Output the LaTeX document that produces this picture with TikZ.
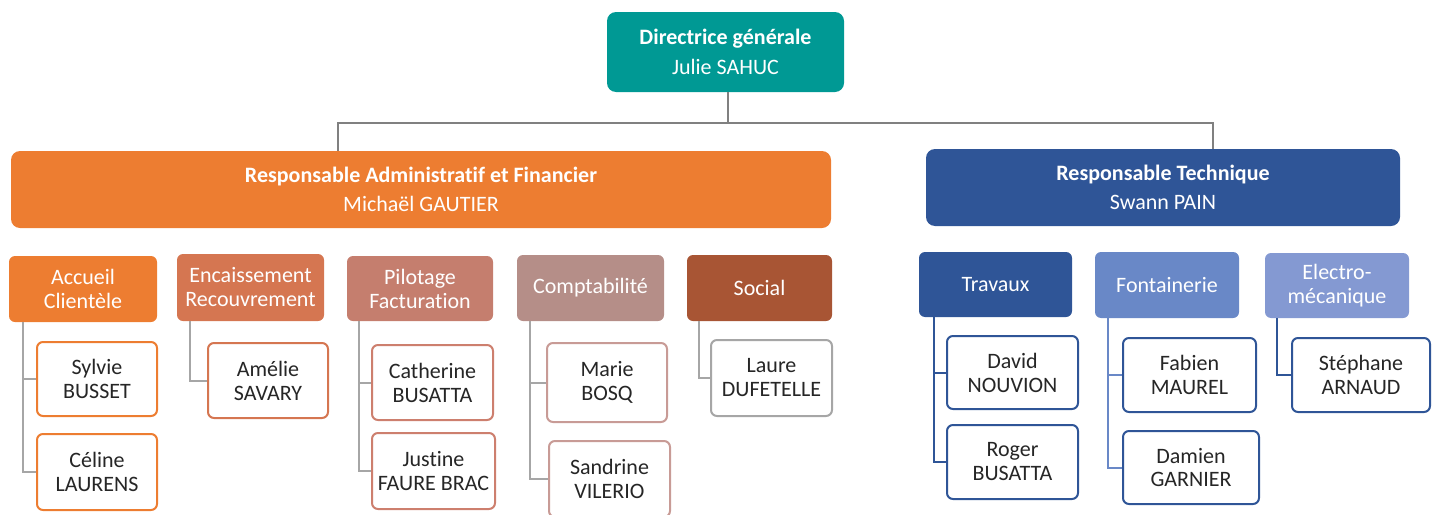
\documentclass[tikz,border=0pt]{standalone}
\usepackage{fontspec}
\setmainfont{Carlito}[Ligatures=NoCommon]
\definecolor{cteal}{RGB}{0,153,148}
\definecolor{corange}{RGB}{237,125,49}
\definecolor{cenc}{RGB}{213,118,81}
\definecolor{cpil}{RGB}{197,126,110}
\definecolor{ccom}{RGB}{181,142,136}
\definecolor{csoc}{RGB}{168,85,52}
\definecolor{cdblue}{RGB}{47,85,151}
\definecolor{cfon}{RGB}{105,136,199}
\definecolor{cele}{RGB}{132,153,210}
\definecolor{bcat}{RGB}{205,127,110}
\definecolor{bmar}{RGB}{200,155,150}
\definecolor{cgray}{RGB}{166,166,166}
\definecolor{ctop}{RGB}{128,128,128}
\definecolor{ctext}{RGB}{38,38,38}
\begin{document}
\begin{tikzpicture}[x=1pt,y=-1pt,
  topbox/.style={rounded corners=9pt, inner sep=0pt, text=white, align=center,
     font=\fontsize{22}{29.5}\selectfont},
  deptbox/.style={rounded corners=6pt, inner sep=0pt, text=white, align=center,
     font=\fontsize{22}{24}\selectfont},
  namebox/.style={rounded corners=6pt, inner sep=0pt, fill=white, line width=2pt,
     text=ctext, align=center, font=\fontsize{22}{24}\selectfont},
  link/.style={line width=2pt, cgray},
  toplink/.style={line width=2.2pt, ctop}]
\useasboundingbox (0,0) rectangle (1437,514);

% top level
\node[topbox, fill=cteal, minimum width=237pt, minimum height=80pt] (dir) at (725.5,52)
  {\textbf{Directrice générale}\\Julie SAHUC};
\node[topbox, fill=corange, minimum width=820pt, minimum height=77pt] (raf) at (421,189.5)
  {\textbf{Responsable Administratif et Financier}\\Michaël GAUTIER};
\node[topbox, fill=cdblue, minimum width=474pt, minimum height=77pt] (rt) at (1163,187.5)
  {\textbf{Responsable Technique}\\Swann PAIN};

\coordinate (jl) at (338,123);
\coordinate (jr) at (1213,123);
\coordinate (jm) at (728,123);
\draw[toplink] (dir.south -| jm) -- (jm);
\draw[toplink] (raf.north -| jl) -- (jl) -- (jr) -- (rt.north -| jr);

% departments
\node[deptbox, fill=corange, minimum width=148pt, minimum height=66pt] (acc) at (83,289) {Accueil\\Clientèle};
\node[deptbox, fill=cenc, minimum width=147pt, minimum height=67pt] (enc) at (250.5,287.5) {Encaissement\\Recouvrement};
\node[deptbox, fill=cpil, minimum width=146pt, minimum height=65pt] (pil) at (420,288.5) {Pilotage\\Facturation};
\node[deptbox, fill=ccom, minimum width=147pt, minimum height=66pt] (com) at (590.5,288) {Comptabilité};
\node[deptbox, fill=csoc, minimum width=145pt, minimum height=66pt] (soc) at (759.5,288) {Social};
\node[deptbox, fill=cdblue, minimum width=153pt, minimum height=65pt] (tra) at (995.5,284.5) {Travaux};
\node[deptbox, fill=cfon, minimum width=144pt, minimum height=66pt] (fon) at (1167,285) {Fontainerie};
\node[deptbox, fill=cele, minimum width=144pt, minimum height=65pt] (ele) at (1337,285.5) {Electro-\\mécanique};

% people
\node[namebox, draw=corange, minimum width=120pt, minimum height=74pt] (syl) at (97,379) {Sylvie\\BUSSET};
\node[namebox, draw=corange, minimum width=120pt, minimum height=76pt] (cel) at (97,472) {Céline\\LAURENS};
\node[namebox, draw=cenc, minimum width=120pt, minimum height=75pt] (ame) at (268,380.5) {Amélie\\SAVARY};
\node[namebox, draw=bcat, minimum width=121pt, minimum height=75pt] (cat) at (432.5,382.5) {Catherine\\BUSATTA};
\node[namebox, draw=bcat, minimum width=123pt, minimum height=76pt] (jus) at (433.5,471) {Justine\\FAURE BRAC};
\node[namebox, draw=bmar, minimum width=120pt, minimum height=79pt] (mar) at (607,382.5) {Marie\\BOSQ};
\node[namebox, draw=bmar, minimum width=121pt, minimum height=76pt] (san) at (609.5,479) {Sandrine\\VILERIO};
\node[namebox, draw=cgray, minimum width=121pt, minimum height=76pt] (lau) at (771.5,378) {Laure\\DUFETELLE};
\node[namebox, draw=cdblue, minimum width=131pt, minimum height=73pt] (dav) at (1012.5,372.5) {David\\NOUVION};
\node[namebox, draw=cdblue, minimum width=131pt, minimum height=74pt] (rog) at (1012.5,462) {Roger\\BUSATTA};
\node[namebox, draw=cdblue, minimum width=133pt, minimum height=74pt] (fab) at (1189.5,375) {Fabien\\MAUREL};
\node[namebox, draw=cdblue, minimum width=136pt, minimum height=73pt] (dam) at (1191,467.5) {Damien\\GARNIER};
\node[namebox, draw=cdblue, minimum width=138pt, minimum height=74pt] (ste) at (1361,375) {Stéphane\\ARNAUD};

% links
\draw[link] ([xshift=14pt]acc.south west) |- (syl.west);
\draw[link] ([xshift=14pt]acc.south west) |- (cel.west);
\draw[link] ([xshift=13pt]enc.south west) |- (ame.west);
\draw[link] ([xshift=12pt]pil.south west) |- (cat.west);
\draw[link] ([xshift=12pt]pil.south west) |- (jus.west);
\draw[link] ([xshift=13pt]com.south west) |- (mar.west);
\draw[link] ([xshift=13pt]com.south west) |- (san.west);
\draw[link] ([xshift=12pt]soc.south west) |- (lau.west);
\draw[link, cdblue] ([xshift=15pt]tra.south west) |- (dav.west);
\draw[link, cdblue] ([xshift=15pt]tra.south west) |- (rog.west);
\draw[link, cfon] ([xshift=13pt]fon.south west) |- (fab.west);
\draw[link, cfon] ([xshift=13pt]fon.south west) |- (dam.west);
\draw[link, cdblue] ([xshift=12pt]ele.south west) |- (ste.west);
\end{tikzpicture}
\end{document}
